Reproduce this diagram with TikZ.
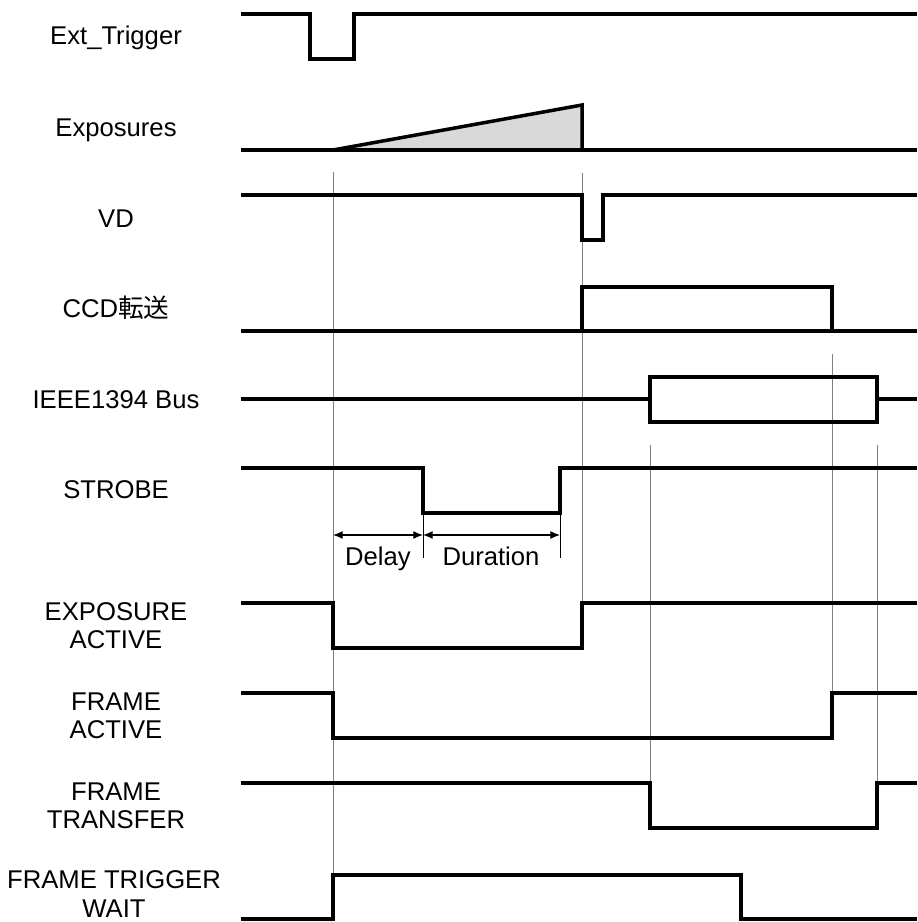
\documentclass[tikz,border=0pt]{standalone}
\usepackage{fontspec}
\setmainfont{Liberation Sans}
\newfontfamily\cjk{Noto Sans CJK JP}
\usepackage{tikz}
\usetikzlibrary{arrows.meta}

\begin{document}
\begin{tikzpicture}[
  x=0.02cm,y=-0.02cm,
  font=\fontsize{14.6}{16}\selectfont,
  wave/.style={line width=2pt,line join=miter},
  guide/.style={draw=gray,line width=0.5pt},
  lab/.style={inner sep=0pt,anchor=base},
  lablong/.style={inner sep=0pt,align=center},
  dim/.style={line width=0.6pt,{Latex[length=5.5pt,width=4.5pt]}-{Latex[length=5.5pt,width=4.5pt]}},
]
  \useasboundingbox (0,0) rectangle (917,922);

  % thin guide lines
  \draw[guide] (333,172) -- (333,875);
  \draw[guide] (582,173) -- (582,603);
  \draw[guide] (832,354) -- (832,693);
  \draw[guide] (650,445) -- (650,828);
  \draw[guide] (877,445) -- (877,783);

  % signal names
  \node[lab] (trig) at (116,45) {Ext\_Trigger};
  \node[lab] (expo) at (116,137) {Exposures};
  \node[lab] (vd) at (116,227) {VD};
  \node[lab] (ccd) at (116,317) {CCD{\cjk 転送}};
  \node[lab] (bus) at (116,408) {IEEE1394 Bus};
  \node[lab] (strobe) at (116,498) {STROBE};
  \node[lablong] (expact) at (116,626) {EXPOSURE\\ACTIVE};
  \node[lablong] (frmact) at (116,716) {FRAME\\ACTIVE};
  \node[lablong] (frmtrans) at (116,806) {FRAME\\TRANSFER};
  \node[lablong] (frmwait) at (114,894) {FRAME TRIGGER\\WAIT};

  % waveforms
  \draw[wave] (241,14) -- (310,14) -- (310,59) -- (354,59) -- (354,14) -- (917,14);
  \fill[gray!30] (333,150) -- (582,105) -- (582,150) -- cycle;
  \draw[wave] (241,150) -- (917,150);
  \draw[wave] (333,150) -- (582,105) -- (582,150);
  \draw[wave] (241,195) -- (582,195) -- (582,240) -- (603,240) -- (603,195) -- (917,195);
  \draw[wave] (241,331) -- (917,331);
  \draw[wave] (582,331) -- (582,287) -- (832,287) -- (832,331);
  \draw[wave] (241,399) -- (650,399);
  \draw[wave] (650,377) rectangle (877,422);
  \draw[wave] (877,399) -- (917,399);
  \draw[wave] (241,468) -- (423,468) -- (423,513) -- (560,513) -- (560,468) -- (917,468);
  \draw[wave] (241,603) -- (333,603) -- (333,648) -- (582,648) -- (582,603) -- (917,603);
  \draw[wave] (241,693) -- (333,693) -- (333,738) -- (832,738) -- (832,693) -- (917,693);
  \draw[wave] (241,783) -- (650,783) -- (650,828) -- (877,828) -- (877,783) -- (917,783);
  \draw[wave] (241,919) -- (333,919) -- (333,875) -- (741,875) -- (741,919) -- (917,919);

  % strobe timing
  \coordinate (d0) at (333,535);
  \coordinate (d1) at (423,535);
  \coordinate (d2) at (560,535);
  \draw[line width=0.5pt] (423,513) -- (423,558);
  \draw[line width=0.5pt] (560,513) -- (560,558);
  \draw[dim] (d0) -- (d1);
  \draw[dim] (d1) -- (d2);
  \node[lab] (delay) at (378,565) {Delay};
  \node[lab] (dur) at (491,565) {Duration};
\end{tikzpicture}
\end{document}
